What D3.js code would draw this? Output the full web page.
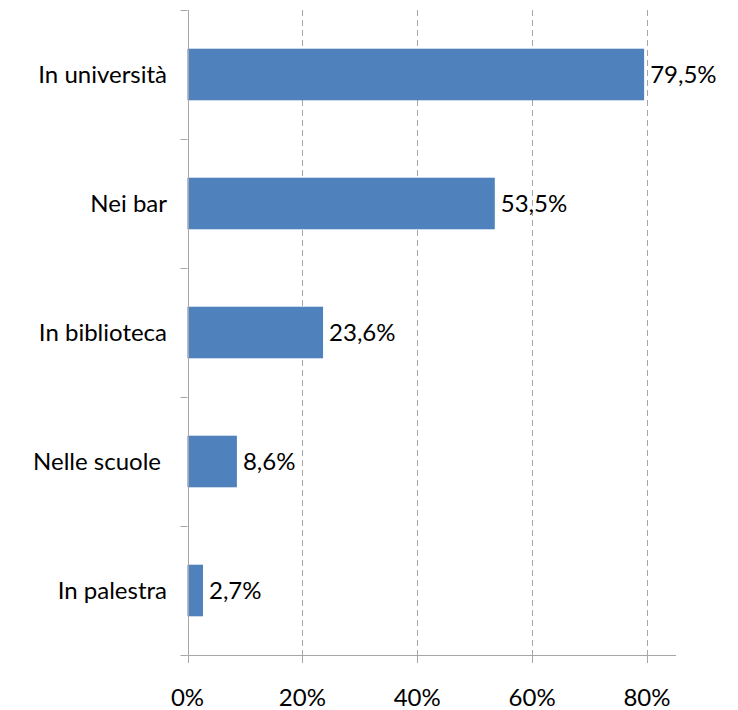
<!DOCTYPE html>
<html>
<head>
<meta charset="utf-8">
<script src="https://cdn.jsdelivr.net/npm/d3@7"></script>
<style>
  html, body { margin: 0; padding: 0; background: #fff; }
  svg text { font-family: Lato, "Open Sans", sans-serif; fill: #000; }
</style>
</head>
<body>
<svg id="chart" width="738" height="710"></svg>
<script>
// Where the activity takes place, share of respondents (%)
const categories = ["In università", "Nei bar", "In biblioteca", "Nelle scuole", "In palestra"];
const values = [79.5, 53.5, 23.6, 8.6, 2.7];
const valueLabels = ["79,5%", "53,5%", "23,6%", "8,6%", "2,7%"];
const xTicks = [0, 20, 40, 60, 80];
const xTickLabels = ["0%", "20%", "40%", "60%", "80%"];

const svg = d3.select("#chart");
const plotLeft = 187.5, plotRight = 676, plotTop = 10, plotBottom = 655;
const fontSize = 24;

const x = d3.scaleLinear().domain([0, 80]).range([plotLeft, 647]);
const y = d3.scaleBand().domain(categories).range([plotTop, plotBottom])
  .paddingInner(0.6).paddingOuter(0.3);

const axisColor = "#a6a6a6";

// dashed vertical gridlines
svg.append("g").selectAll("line").data(xTicks.slice(1)).join("line")
  .attr("x1", d => Math.round(x(d)) + 0.5).attr("x2", d => Math.round(x(d)) + 0.5)
  .attr("y1", plotTop).attr("y2", plotBottom)
  .attr("stroke", "#a6a6a6").attr("stroke-width", 1)
  .attr("stroke-dasharray", "6,4");

// bars
svg.append("g").selectAll("rect").data(categories).join("rect")
  .attr("x", x(0))
  .attr("y", d => y(d))
  .attr("width", (d, i) => x(values[i]) - x(0))
  .attr("height", y.bandwidth())
  .attr("fill", "#4f81bd");

// value labels
svg.append("g").selectAll("text").data(categories).join("text")
  .attr("x", (d, i) => x(values[i]) + 6)
  .attr("y", d => y(d) + y.bandwidth() / 2)
  .attr("dy", "0.35em")
  .attr("font-size", fontSize)
  .text((d, i) => valueLabels[i]);

// y axis line and category ticks
svg.append("line")
  .attr("x1", Math.round(plotLeft) + 0.5).attr("x2", Math.round(plotLeft) + 0.5)
  .attr("y1", plotTop).attr("y2", plotBottom)
  .attr("stroke", axisColor);
const bandEdges = d3.range(categories.length + 1).map(i => plotTop + i * (plotBottom - plotTop) / categories.length);
svg.append("g").selectAll("line").data(bandEdges).join("line")
  .attr("x1", plotLeft - 7).attr("x2", plotLeft)
  .attr("y1", d => Math.round(d) + 0.5).attr("y2", d => Math.round(d) + 0.5)
  .attr("stroke", axisColor);

// category labels
svg.append("g").selectAll("text").data(categories).join("text")
  .attr("x", d => d === "Nelle scuole" ? 161 : 167)
  .attr("y", d => y(d) + y.bandwidth() / 2)
  .attr("dy", "0.35em")
  .attr("text-anchor", "end")
  .attr("font-size", fontSize)
  .text(d => d);

// x axis line and ticks
svg.append("line")
  .attr("x1", plotLeft).attr("x2", plotRight)
  .attr("y1", plotBottom + 0.5).attr("y2", plotBottom + 0.5)
  .attr("stroke", axisColor);
svg.append("g").selectAll("line").data(xTicks).join("line")
  .attr("x1", d => Math.round(x(d)) + 0.5).attr("x2", d => Math.round(x(d)) + 0.5)
  .attr("y1", plotBottom).attr("y2", plotBottom + 8)
  .attr("stroke", axisColor);
svg.append("g").selectAll("text").data(xTicks).join("text")
  .attr("x", d => x(d))
  .attr("y", 698)
  .attr("dy", "0.35em")
  .attr("text-anchor", "middle")
  .attr("font-size", fontSize)
  .text((d, i) => xTickLabels[i]);
</script>
</body>
</html>
